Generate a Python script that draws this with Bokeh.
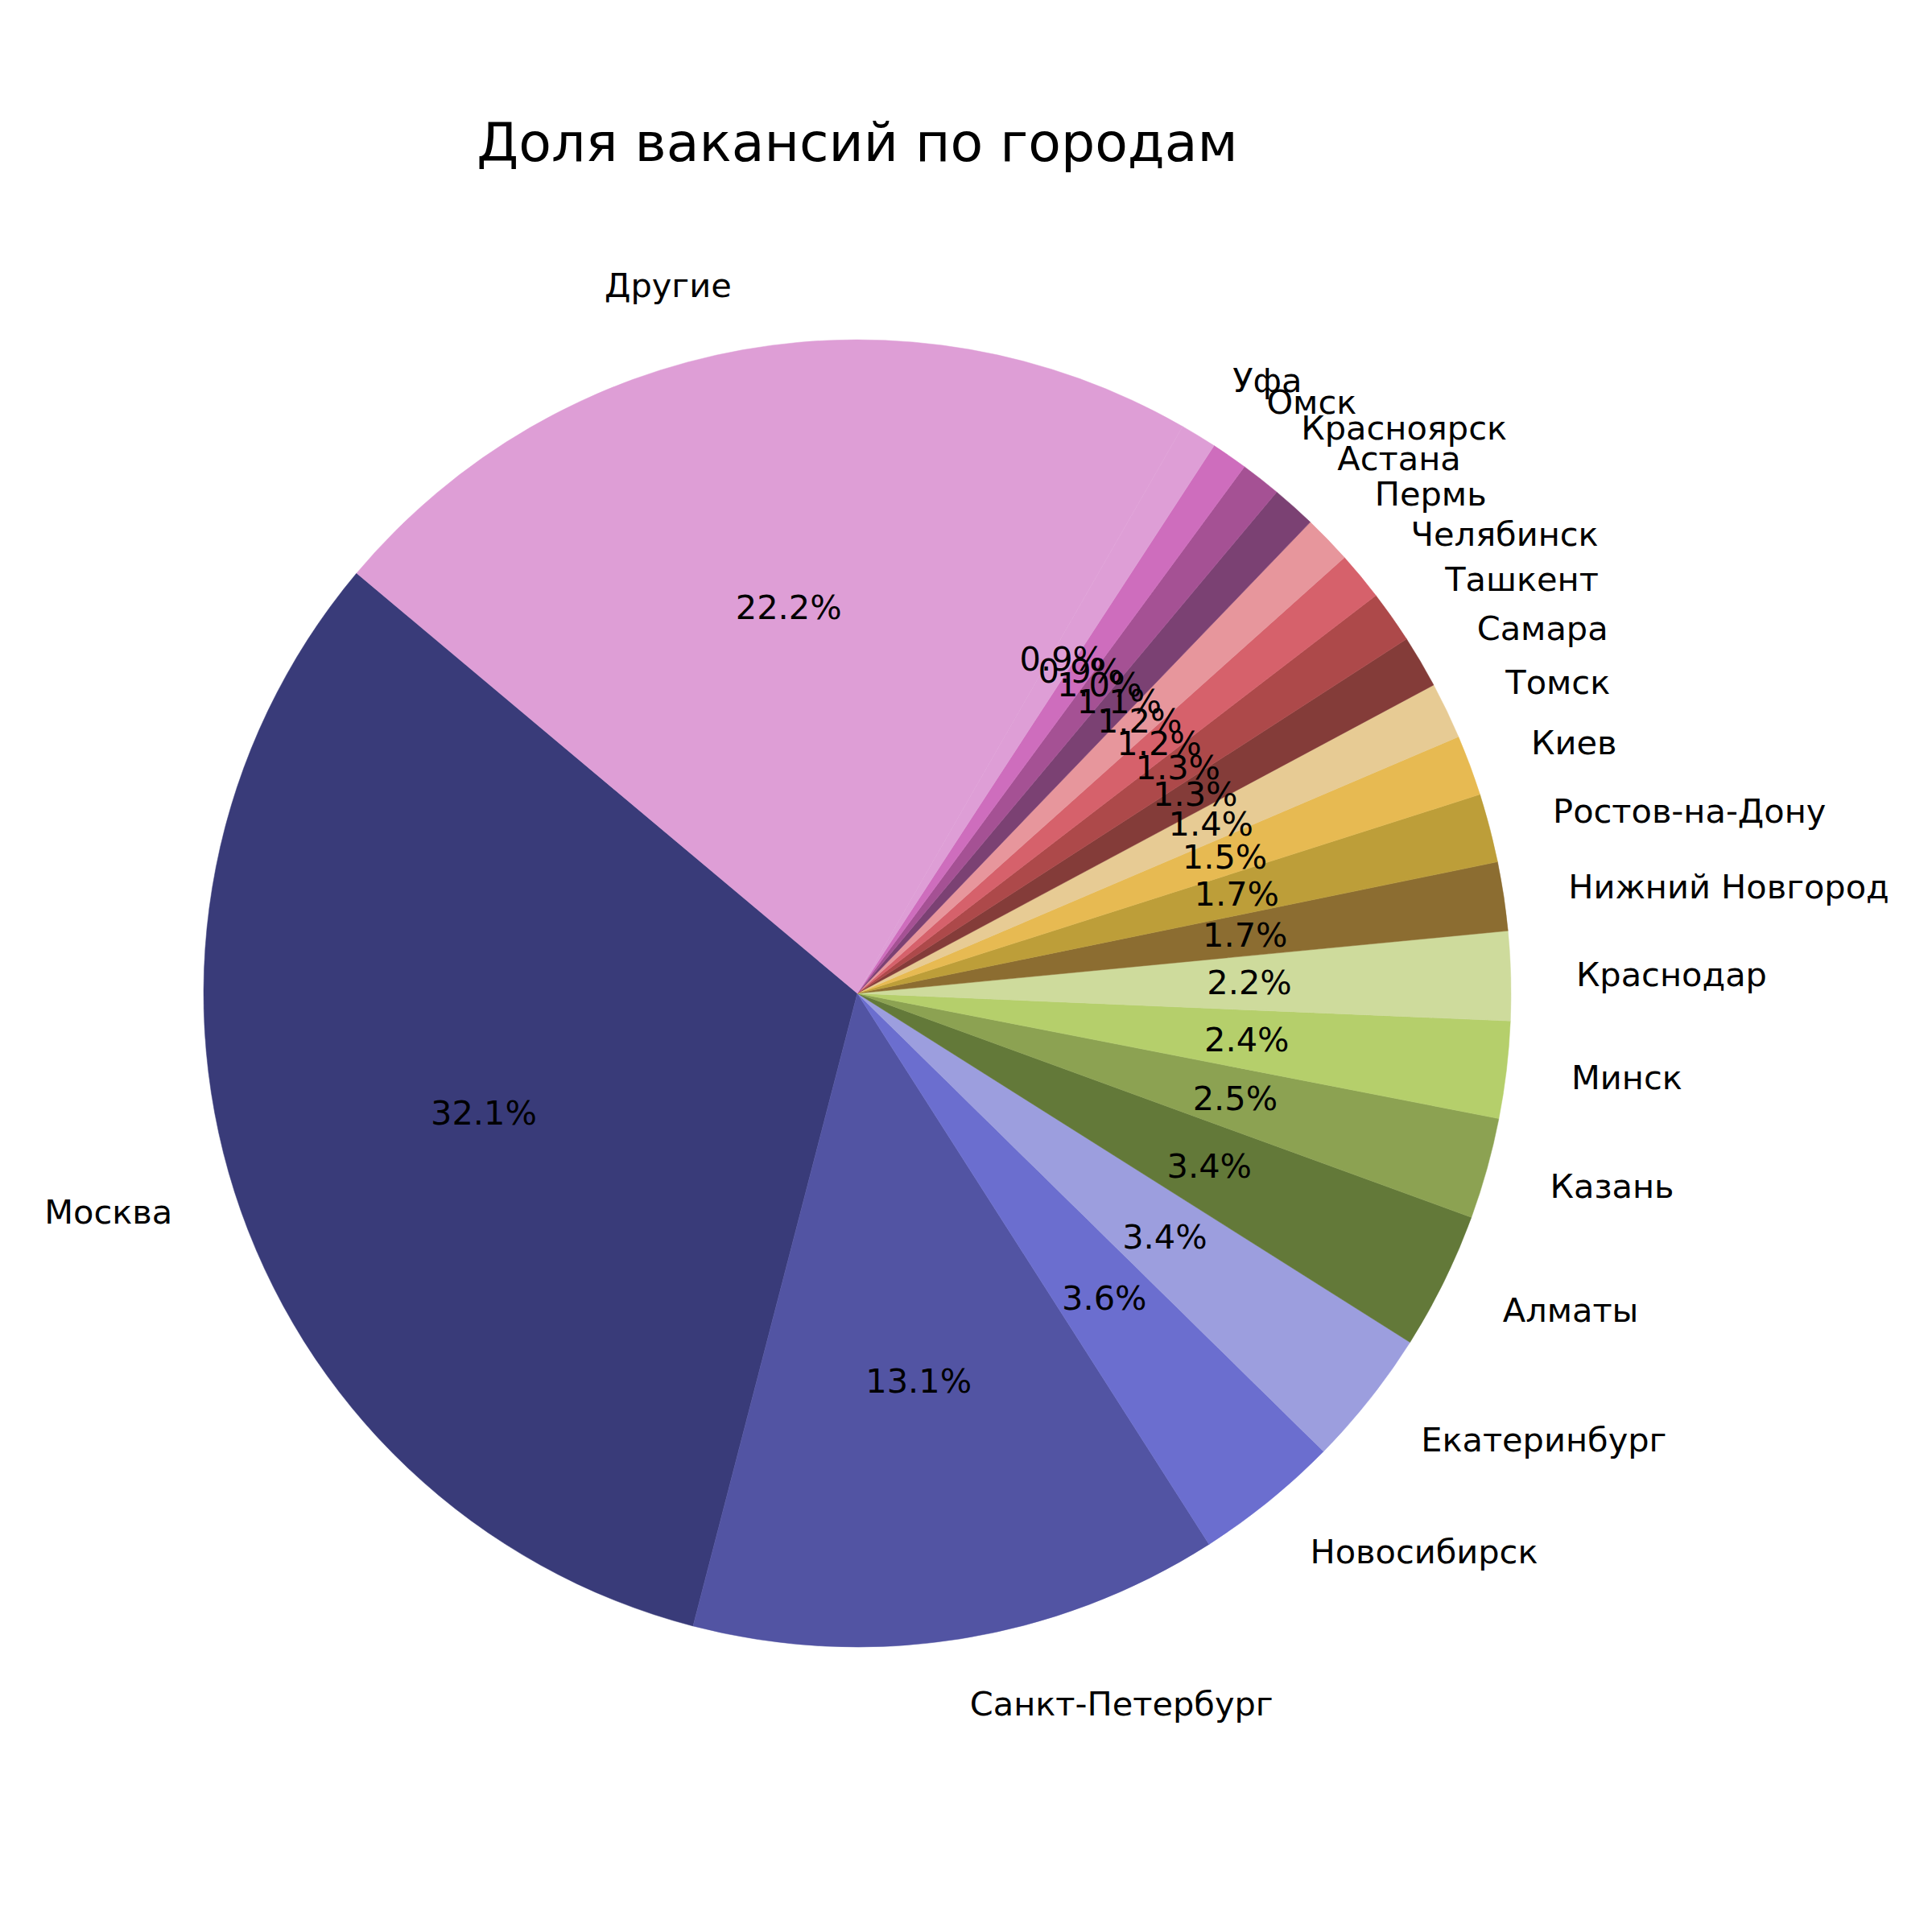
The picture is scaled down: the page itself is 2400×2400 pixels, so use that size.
import math
from bokeh.plotting import figure
from bokeh.models import ColumnDataSource, Range1d, Label
from bokeh.embed import file_html
from bokeh.resources import INLINE
from bokeh.core.properties import value

cities = ["Москва", "Санкт-Петербург", "Новосибирск", "Екатеринбург", "Алматы",
          "Казань", "Минск", "Краснодар", "Нижний Новгород", "Ростов-на-Дону",
          "Киев", "Томск", "Самара", "Ташкент", "Челябинск", "Пермь", "Астана",
          "Красноярск", "Омск", "Уфа", "Другие"]
shares = [32.1, 13.1, 3.6, 3.4, 3.4, 2.5, 2.4, 2.2, 1.7, 1.7, 1.5, 1.4, 1.3, 1.3,
          1.2, 1.2, 1.1, 1.0, 0.9, 0.9, 22.2]
colors = ["#393b79", "#5254a3", "#6b6ecf", "#9c9ede", "#637939", "#8ca252",
          "#b5cf6b", "#cedb9c", "#8c6d31", "#bd9e39", "#e7ba52", "#e7cb94",
          "#843c39", "#ad494a", "#d6616b", "#e7969c", "#7b4173", "#a55194",
          "#ce6dbd", "#de9ed6", "#de9ed6"]
title_text = "Доля вакансий по городам"

W = H = 2400
CX, CY, R = 1064.5, 2400 - 1233.5, 812.0
START = 140.0
FONT = "DejaVu Sans"

total = sum(shares)
starts, ends, mids = [], [], []
acc = START
for s in shares:
    a0 = acc
    a1 = acc + 360.0 * s / total
    starts.append(math.radians(a0))
    ends.append(math.radians(a1))
    mids.append(math.radians((a0 + a1) / 2))
    acc = a1

src = ColumnDataSource(dict(start=starts, end=ends, color=colors))

p = figure(width=W, height=H, output_backend="svg", toolbar_location=None,
           x_range=Range1d(0, W), y_range=Range1d(0, H), min_border=0)
p.axis.visible = False
p.grid.visible = False
p.outline_line_color = None
p.background_fill_color = "white"
p.border_fill_color = "white"

p.wedge(x=CX, y=CY, radius=R, start_angle="start", end_angle="end",
        fill_color="color", line_color="color", line_width=0.5, source=src,
        direction="anticlock")

lx, ly, lt, la = [], [], [], []
px, py, pt = [], [], []
for c, s, m in zip(cities, shares, mids):
    x = 1.1 * R * math.cos(m)
    y = 1.1 * R * math.sin(m)
    lx.append(CX + x)
    ly.append(CY + y)
    lt.append(c)
    la.append("left" if x > 0 else "right")
    px.append(CX + 0.6 * R * math.cos(m))
    py.append(CY + 0.6 * R * math.sin(m))
    pt.append("%.1f%%" % (100.0 * s / total))

lsrc = ColumnDataSource(dict(x=lx, y=ly, text=lt, align=la))
p.text(x="x", y="y", text="text", text_align="align", text_baseline="middle",
       text_font=value(FONT), text_font_size="41.5px", text_color="black", source=lsrc)

psrc = ColumnDataSource(dict(x=px, y=py, text=pt))
p.text(x="x", y="y", text="text", text_align="center", text_baseline="middle",
       text_font=value(FONT), text_font_size="41.5px", text_color="black", source=psrc)

p.add_layout(Label(x=CX, y=H - 176, text=title_text, text_align="center",
                   text_baseline="middle", text_font=FONT, text_font_size="66.5px",
                   text_color="black"))

open("out.html", "w").write(file_html(p, INLINE))
